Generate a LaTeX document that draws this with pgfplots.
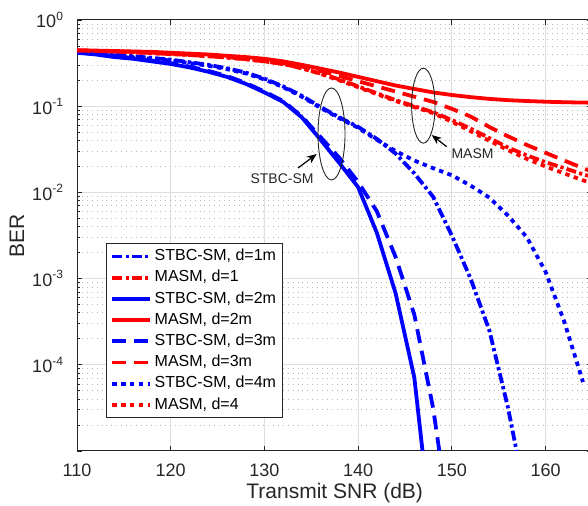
\documentclass[border=0pt]{standalone}
\usepackage{fontspec}
\setmainfont{Liberation Sans}
\usepackage{pgfplots}
\pgfplotsset{compat=1.18}
\usetikzlibrary{arrows.meta}

\definecolor{gridmaj}{RGB}{222,222,222}
\definecolor{gridmin}{RGB}{185,185,185}
\definecolor{axgray}{RGB}{38,38,38}

% line styles (MATLAB-like, thick)
\pgfplotsset{
  ddot/.style={line width=1.9pt, dash pattern=on 5pt off 1.6pt on 1.6pt off 1.6pt},
  dsol/.style={line width=1.9pt, solid},
  ddash/.style={line width=1.9pt, dash pattern=on 7pt off 4pt},
  ddots/.style={line width=1.9pt, dash pattern=on 2.2pt off 2.2pt},
}

\begin{document}
\begin{tikzpicture}
\begin{axis}[
  scale only axis,
  width=257.7pt, height=215.5pt,
  xmin=110, xmax=165,
  ymode=log, ymin=1e-5, ymax=1,
  xtick={110,120,130,140,150,160},
  ytick={1e-5,1e-4,1e-3,1e-2,1e-1,1},
  yticklabels={,10\textsuperscript{-4},10\textsuperscript{-3},10\textsuperscript{-2},10\textsuperscript{-1},10\textsuperscript{0}},
  minor ytick={2e-5,3e-5,4e-5,5e-5,6e-5,7e-5,8e-5,9e-5,
               2e-4,3e-4,4e-4,5e-4,6e-4,7e-4,8e-4,9e-4,
               2e-3,3e-3,4e-3,5e-3,6e-3,7e-3,8e-3,9e-3,
               2e-2,3e-2,4e-2,5e-2,6e-2,7e-2,8e-2,9e-2,
               0.2,0.3,0.4,0.5,0.6,0.7,0.8,0.9},
  /pgf/number format/assume math mode=true,
  tick align=inside,
  major tick length=2.5pt, minor tick length=1.5pt,
  every tick/.style={axgray, line width=0.4pt},
  axis line style={axgray, line width=0.5pt},
  xmajorgrids, ymajorgrids, yminorgrids,
  major grid style={gridmaj, line width=0.5pt},
  minor grid style={gridmin, line width=0.4pt, dash pattern=on 0.45pt off 2pt},
  tick label style={font=\fontsize{9}{10}\selectfont, text=axgray},
  xticklabel style={yshift=-3pt},
  yticklabel style={xshift=-3pt},
  xlabel={Transmit SNR (dB)}, ylabel={BER},
  label style={font=\fontsize{10.5}{12}\selectfont, text=axgray},
  xlabel style={at={([yshift=-21pt]axis description cs:0.5,0)}, anchor=center},
  ylabel style={at={([xshift=-30pt]axis description cs:0,0.5)}, anchor=center},
  legend cell align=left,
  legend image code/.code={\draw[#1] (0pt,0pt) -- (19pt,0pt);},
  legend style={at={(axis description cs:0.0563,0.0766)}, anchor=south west,
    draw=axgray, line width=0.5pt, fill=white,
    font=\fontsize{8}{9.6}\selectfont,
    inner xsep=2pt, inner ysep=1.2pt, row sep=0.4pt,
    nodes={inner sep=1.2pt, text height=6pt, text depth=1.8pt}},
]
\coordinate (BL) at (rel axis cs:0,0);

% STBC-SM, d=1m
\addplot[blue, ddot] coordinates {
 (110,0.4266) (112,0.4169) (114,0.3981) (116,0.3802) (118,0.3631) (120,0.3467)
 (122,0.3236) (124,0.3020) (126,0.2754) (128,0.2455) (130,0.2089) (132,0.1698)
 (134,0.1318) (136,0.0977) (138,0.0741) (140,0.0575) (142,0.0417) (144,0.0282)
 (146,0.0166) (148,0.00891) (150,0.00316) (152,0.001) (154,2.51e-4) (156,3.16e-5)
 (158,2.51e-6)
};
% MASM, d=1
\addplot[red, ddot] coordinates {
 (110,0.4416) (112,0.4365) (114,0.4315) (116,0.4217) (118,0.4121) (120,0.4027)
 (122,0.3936) (124,0.3802) (126,0.3673) (128,0.3508) (130,0.3311) (132,0.3090)
 (134,0.2754) (136,0.2399) (138,0.2042) (140,0.1698) (142,0.1413) (144,0.1175)
 (146,0.1) (148,0.0851) (150,0.0692) (152,0.0550) (154,0.0427) (156,0.0331)
 (158,0.0269) (160,0.0224) (162,0.0191) (164,0.0162) (166,0.0141)
};
% STBC-SM, d=2m
\addplot[blue, dsol] coordinates {
 (110,0.4169) (112,0.3981) (114,0.3715) (116,0.3548) (118,0.3311) (120,0.3090)
 (122,0.2818) (124,0.2512) (126,0.2188) (128,0.1820) (130,0.1445) (132,0.1122)
 (134,0.0741) (136,0.0407) (138,0.0219) (140,0.0115) (142,0.00339) (144,6.76e-4)
 (146,7.08e-5) (148,7.94e-7)
};
% MASM, d=2m
\addplot[red, dsol] coordinates {
 (110,0.4467) (112,0.4416) (114,0.4365) (116,0.4315) (118,0.4266) (120,0.4169)
 (122,0.4074) (124,0.3981) (126,0.3846) (128,0.3715) (130,0.3548) (132,0.3311)
 (134,0.3020) (136,0.2723) (138,0.2455) (140,0.2188) (142,0.1950) (144,0.1738)
 (146,0.1585) (148,0.1445) (150,0.1349) (152,0.1274) (154,0.1216) (156,0.1175)
 (158,0.1148) (160,0.1127) (162,0.1112) (164,0.1102) (166,0.1096)
};
% STBC-SM, d=3m
\addplot[blue, ddash] coordinates {
 (110,0.4266) (112,0.4074) (114,0.3802) (116,0.3631) (118,0.3388) (120,0.3162)
 (122,0.2884) (124,0.2570) (126,0.2239) (128,0.1862) (130,0.1479) (132,0.1148)
 (134,0.0759) (136,0.0437) (138,0.0251) (140,0.0132) (142,0.00603) (144,0.00178)
 (146,3.80e-4) (148,3.16e-5) (150,1e-6)
};
% MASM, d=3m
\addplot[red, ddash] coordinates {
 (110,0.4416) (112,0.4365) (114,0.4315) (116,0.4266) (118,0.4169) (120,0.4074)
 (122,0.3981) (124,0.3846) (126,0.3715) (128,0.3548) (130,0.3388) (132,0.3162)
 (134,0.2884) (136,0.2570) (138,0.2239) (140,0.1950) (142,0.1698) (144,0.1479)
 (146,0.1288) (148,0.1122) (150,0.0933) (152,0.0759) (154,0.0575) (156,0.0447)
 (158,0.0355) (160,0.0288) (162,0.0234) (164,0.0191) (166,0.0158)
};
% STBC-SM, d=4m
\addplot[blue, ddots] coordinates {
 (110,0.4169) (112,0.4074) (114,0.3890) (116,0.3715) (118,0.3548) (120,0.3388)
 (122,0.3162) (124,0.2951) (126,0.2692) (128,0.2399) (130,0.2042) (132,0.1660)
 (134,0.1288) (136,0.0955) (138,0.0724) (140,0.0562) (142,0.0407) (144,0.0302)
 (146,0.0234) (148,0.0191) (150,0.0158) (152,0.0120) (154,0.00871) (156,0.00537)
 (158,0.00302) (160,0.00120) (162,3.16e-4) (164,6.31e-5)
};
% MASM, d=4
\addplot[red, ddots] coordinates {
 (110,0.4416) (112,0.4365) (114,0.4315) (116,0.4217) (118,0.4121) (120,0.4027)
 (122,0.3936) (124,0.3802) (126,0.3673) (128,0.3508) (130,0.3311) (132,0.3090)
 (134,0.2754) (136,0.2371) (138,0.1995) (140,0.1660) (142,0.1380) (144,0.1148)
 (146,0.0977) (148,0.0832) (150,0.0661) (152,0.0513) (154,0.0398) (156,0.0309)
 (158,0.0245) (160,0.0200) (162,0.0166) (164,0.0138) (166,0.0117)
};

\legend{{STBC-SM, d=1m}, {MASM, d=1}, {STBC-SM, d=2m}, {MASM, d=2m},
        {STBC-SM, d=3m}, {MASM, d=3m}, {STBC-SM, d=4m}, {MASM, d=4}}

% annotations
\draw[axgray, line width=0.45pt] (axis cs:137.16,0.04764) ellipse [x radius=6.75pt, y radius=23pt];
\draw[axgray, line width=0.45pt] (axis cs:146.96,0.1014) ellipse [x radius=5.85pt, y radius=18.75pt];
\draw[black, line width=0.6pt, -{Stealth[length=5pt,width=4pt]}] (axis cs:133.59,0.01919) -- (axis cs:135.58,0.02789);
\draw[black, line width=0.6pt, -{Stealth[length=5pt,width=4pt]}] (axis cs:149.45,0.0339) -- (axis cs:147.85,0.0463);
\node[font=\fontsize{7}{8}\selectfont, text=axgray] at (axis cs:131.88,0.0143) {STBC-SM};
\node[font=\fontsize{7}{8}\selectfont, text=axgray] at (axis cs:152.21,0.02789) {MASM};
\end{axis}
\pgfresetboundingbox
\path[use as bounding box] ([xshift=-38.5pt,yshift=-27.5pt]BL) rectangle ([xshift=255.5pt,yshift=225.5pt]BL);
\end{tikzpicture}
\end{document}
